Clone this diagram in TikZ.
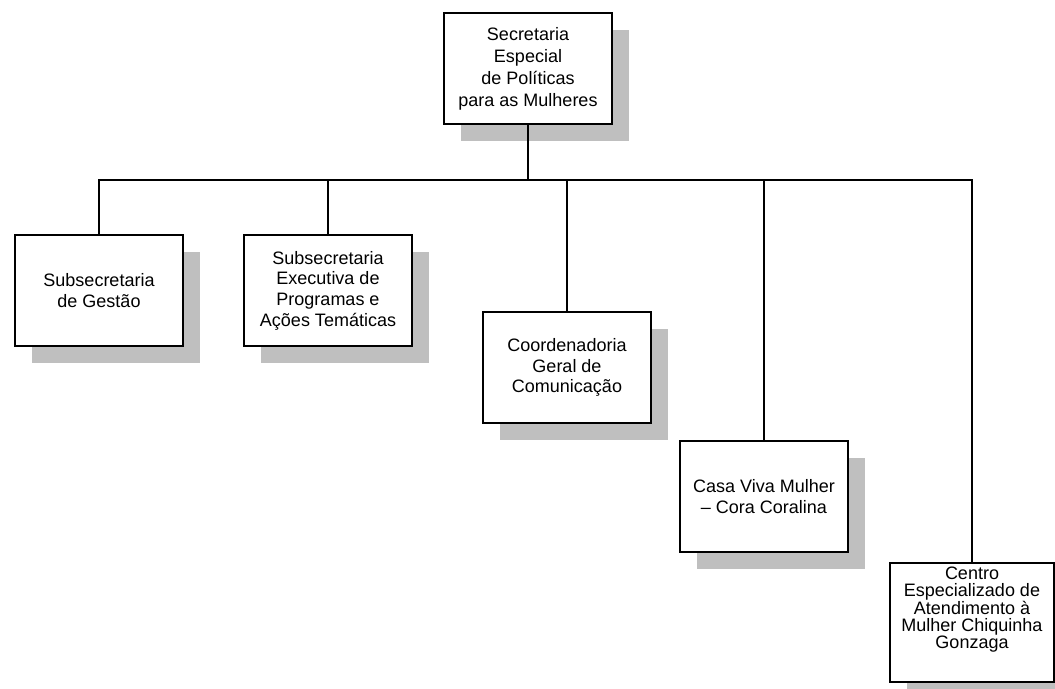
\documentclass[tikz,border=0pt]{standalone}
\usepackage{fontspec}
\setmainfont{Liberation Sans}
\usetikzlibrary{shadows}

\begin{document}
\begin{tikzpicture}[x=0.75pt,y=-0.75pt,
  orgbox/.style={draw,line width=1.5pt,fill=white,align=center,
    minimum width=126pt,minimum height=83.25pt,inner sep=0pt,
    font=\fontsize{13.5}{15.5}\selectfont,
    drop shadow={shadow xshift=12.75pt,shadow yshift=-12.75pt,fill=black!25,opacity=1}},
  link/.style={line width=1.6pt},
  thinlink/.style={line width=1pt}]
  \useasboundingbox (0,0) rectangle (1055,688);

  \node[orgbox,font=\fontsize{13.5}{16.5}\selectfont] (spm) at (528,68.5) {Secretaria\\Especial\\de Políticas\\para as Mulheres};

  \node[orgbox] (gestao) at (99,290.5) {Subsecretaria\\de Gestão};
  \node[orgbox] (acoes) at (328,290.5) {Subsecretaria\\Executiva de\\Programas e\\Ações Temáticas};
  \node[orgbox] (comunic) at (567,367.5) {Coordenadoria\\Geral de\\Comunicação};
  \node[orgbox] (casa) at (764,496.5) {Casa Viva Mulher\\– Cora Coralina};
  \node[orgbox,minimum width=123pt,minimum height=89.25pt,font=\fontsize{13.5}{12.5}\selectfont,
    text height=41.25pt,text depth=3pt] (centro) at (972,622.5) {Centro\\Especializado de\\Atendimento à\\Mulher Chiquinha\\Gonzaga};

  % barramento
  \coordinate (bus) at (528,180);
  \draw[link] (spm) -- (bus);
  \foreach \b in {gestao,acoes,casa,centro} {
    \draw[link] (bus) -| (\b);
  }
  \draw[thinlink] (bus) -| (comunic);
\end{tikzpicture}
\end{document}
